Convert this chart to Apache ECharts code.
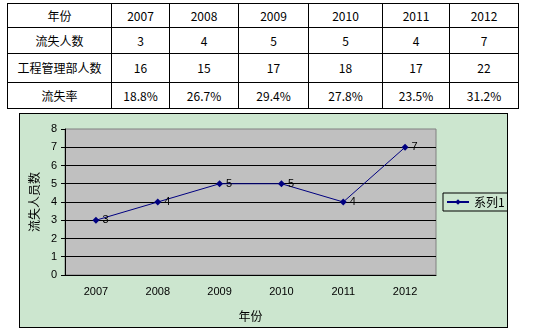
<!DOCTYPE html>
<html>
<head>
<meta charset="utf-8">
<script src="https://cdn.jsdelivr.net/npm/echarts@6/dist/echarts.min.js"></script>
<style>
  html, body { margin: 0; padding: 0; background: #ffffff; }
  body { width: 541px; height: 335px; position: relative; overflow: hidden; }
  #tbl {
    position: absolute; left: 7px; top: 3px;
    border-collapse: collapse; table-layout: fixed;
    font-family: "Noto Sans CJK SC", "DejaVu Sans", sans-serif;
    font-size: 12px; color: #000;
  }
  #tbl td {
    border: 1px solid #000; padding: 0; text-align: center;
    box-sizing: border-box; line-height: 14px;
  }
  #box {
    position: absolute; left: 19px; top: 113px;
    width: 489px; height: 215px; box-sizing: border-box;
    border: 1px solid #000; background: #cce6cf;
  }
  #chart { width: 487px; height: 213px; }
</style>
</head>
<body>
<table id="tbl"></table>
<div id="box"><div id="chart"></div></div>
<script>
// Staff turnover, engineering management department
var years = ['2007', '2008', '2009', '2010', '2011', '2012'];
var leavers = [3, 4, 5, 5, 4, 7];
var deptStaff = [16, 15, 17, 18, 17, 22];
var turnoverRate = ['18.8%', '26.7%', '29.4%', '27.8%', '23.5%', '31.2%'];
var rowHeads = ['年份', '流失人数', '工程管理部人数', '流失率'];
var yTicks = [0, 1, 2, 3, 4, 5, 6, 7, 8];
var seriesName = '系列1';

// summary table above the chart
var colWidths = [104, 58, 69, 70, 74, 67, 69];
var rowHeights = [24, 26, 29, 26];
var rows = [years, leavers, deptStaff, turnoverRate];
var tbl = document.getElementById('tbl');
var cg = document.createElement('colgroup');
colWidths.forEach(function (w) {
  var c = document.createElement('col');
  c.style.width = w + 'px';
  cg.appendChild(c);
});
tbl.appendChild(cg);
rows.forEach(function (vals, r) {
  var tr = document.createElement('tr');
  tr.style.height = rowHeights[r] + 'px';
  var th = document.createElement('td');
  th.textContent = rowHeads[r];
  tr.appendChild(th);
  vals.forEach(function (v) {
    var td = document.createElement('td');
    td.textContent = String(v);
    tr.appendChild(td);
  });
  tbl.appendChild(tr);
});

var chart = echarts.init(document.getElementById('chart'), null, { renderer: 'canvas' });
chart.setOption({
  animation: false,
  backgroundColor: 'transparent',
  textStyle: { fontFamily: 'Liberation Sans, Arial, sans-serif' },
  grid: {
    left: 41, top: 15, width: 375, height: 148,
    show: true, backgroundColor: '#c0c0c0', borderColor: '#808080', borderWidth: 1
  },
  legend: {
    left: 423, top: 79,
    padding: [3, 3, 3, 3],
    borderColor: '#000', borderWidth: 1,
    itemWidth: 22, itemHeight: 7, itemGap: 4,
    textStyle: { fontFamily: '"Noto Sans CJK SC", sans-serif', fontSize: 12, color: '#000' },
    data: [seriesName]
  },
  xAxis: {
    type: 'category',
    data: years,
    boundaryGap: true,
    name: '年份',
    nameLocation: 'middle',
    nameGap: 35,
    nameTextStyle: { fontFamily: '"Noto Sans CJK SC", sans-serif', fontSize: 12, color: '#000' },
    axisLine: { lineStyle: { color: '#000', width: 1 } },
    axisTick: { inside: true, length: 4, lineStyle: { color: '#000' } },
    axisLabel: { color: '#000', fontSize: 11, margin: 11 },
    splitLine: { show: false }
  },
  yAxis: {
    type: 'value',
    min: yTicks[0],
    max: yTicks[yTicks.length - 1],
    interval: 1,
    name: '流失人员数',
    nameLocation: 'middle',
    nameGap: 24,
    nameTextStyle: { fontFamily: '"Noto Sans CJK SC", sans-serif', fontSize: 12, color: '#000' },
    axisLine: { show: true, lineStyle: { color: '#000', width: 1 } },
    axisTick: { show: true, length: 4, lineStyle: { color: '#000' } },
    axisLabel: { color: '#000', fontSize: 11, margin: 8 },
    splitLine: { show: true, showMaxLine: false, lineStyle: { color: '#000', width: 1 } }
  },
  series: [{
    name: seriesName,
    type: 'line',
    data: leavers,
    symbol: 'diamond',
    symbolSize: 7,
    lineStyle: { color: '#000080', width: 1 },
    itemStyle: { color: '#000080' },
    label: {
      show: true, position: 'right', distance: 3,
      color: '#000', fontSize: 11, fontFamily: 'Liberation Sans, Arial, sans-serif'
    }
  }]
});
</script>
</body>
</html>
